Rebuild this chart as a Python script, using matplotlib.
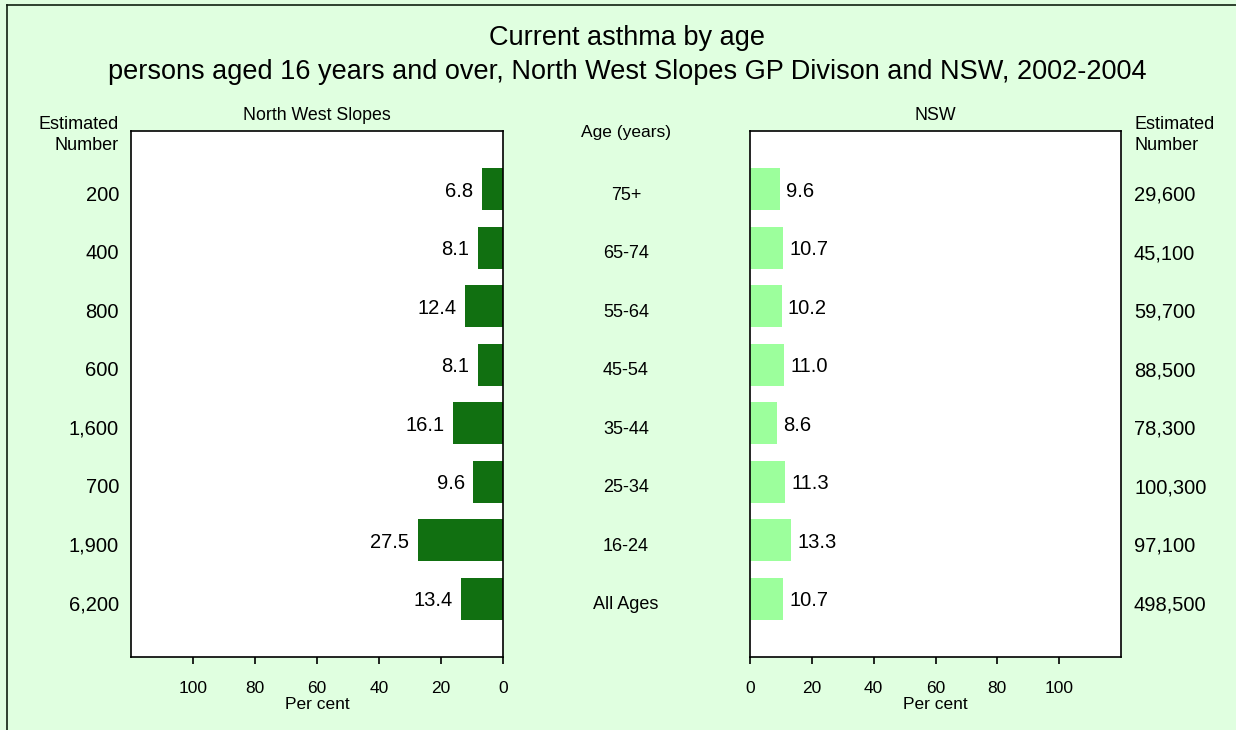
import matplotlib
matplotlib.use("Agg")
import matplotlib.pyplot as plt
from matplotlib.lines import Line2D
import matplotlib.transforms as mtransforms

plt.rcParams['font.family'] = ['Liberation Sans', 'DejaVu Sans']

ages = ["75+", "65-74", "55-64", "45-54", "35-44", "25-34", "16-24", "All Ages"]
nws_pct = [6.8, 8.1, 12.4, 8.1, 16.1, 9.6, 27.5, 13.4]
nsw_pct = [9.6, 10.7, 10.2, 11.0, 8.6, 11.3, 13.3, 10.7]
nws_num = ["200", "400", "800", "600", "1,600", "700", "1,900", "6,200"]
nsw_num = ["29,600", "45,100", "59,700", "88,500", "78,300", "100,300", "97,100", "498,500"]
ticks = [0, 20, 40, 60, 80, 100]

bg = "#E0FFE0"
dark = "#117011"
light = "#9CFF9C"

W, H = 1236, 730
fig = plt.figure(figsize=(W / 100, H / 100), dpi=100, facecolor=bg)

def fx(px):
    return px / W

def fy(py):
    return 1 - py / H

axL = fig.add_axes([fx(131), fy(657), fx(503 - 131), (657 - 131) / H])
axR = fig.add_axes([fx(750), fy(657), fx(1121 - 750), (657 - 131) / H])

ypos = list(range(len(ages)))

axL.barh(ypos, nws_pct, height=0.72, color=dark)
axR.barh(ypos, nsw_pct, height=0.72, color=light)

for ax in (axL, axR):
    ax.set_ylim(len(ages), -1)
    ax.set_facecolor("white")
    ax.set_yticks([])
    ax.set_xticks(ticks)
    ax.tick_params(axis="x", length=5, width=1.2, labelsize=12.5, pad=12, colors="black")
    for s in ax.spines.values():
        s.set_linewidth(1.2)
    ax.set_xlabel("Per cent", fontsize=12.5, labelpad=1)
axL.set_xlim(120, 0)
axR.set_xlim(0, 120)

for y, v in zip(ypos, nws_pct):
    axL.annotate(f"{v:.1f}", (v, y), xytext=(-6, -1.5), textcoords="offset points",
                 ha="right", va="center", fontsize=14.5)
for y, v in zip(ypos, nsw_pct):
    axR.annotate(f"{v:.1f}", (v, y), xytext=(4.5, -1.5), textcoords="offset points",
                 ha="left", va="center", fontsize=14.5)

offs = mtransforms.ScaledTranslation(0, -6 / 100, fig.dpi_scale_trans)
trL = mtransforms.blended_transform_factory(fig.transFigure, axL.transData) + offs
for y, a, n1, n2 in zip(ypos, ages, nws_num, nsw_num):
    fig.text(fx(626), y, a, transform=trL, ha="center", va="center", fontsize=13)
    fig.text(fx(119), y, n1, transform=trL, ha="right", va="center", fontsize=14.5)
    fig.text(fx(1134), y, n2, transform=trL, ha="left", va="center", fontsize=14.5)

fig.text(fx(119), fy(135), "Estimated\nNumber", ha="right", va="center", fontsize=13, linespacing=1.3)
fig.text(fx(1134), fy(135), "Estimated\nNumber", ha="left", va="center", fontsize=13, linespacing=1.3)
fig.text(fx(626), fy(133), "Age (years)", ha="center", va="center", fontsize=12.5)
fig.text(fx(317), fy(115), "North West Slopes", ha="center", va="center", fontsize=12.8)
fig.text(fx(935), fy(115), "NSW", ha="center", va="center", fontsize=12.8)

fig.text(fx(627), fy(38), "Current asthma by age", ha="center", va="center", fontsize=19.5)
fig.text(fx(627), fy(72), "persons aged 16 years and over, North West Slopes GP Divison and NSW, 2002-2004",
         ha="center", va="center", fontsize=19.5)

fig.add_artist(Line2D([fx(7), 1], [fy(5), fy(5)], transform=fig.transFigure, color="#102010", lw=1.2))
fig.add_artist(Line2D([fx(7), fx(7)], [0, fy(5)], transform=fig.transFigure, color="#102010", lw=1.2))

fig.savefig("out.png", dpi=100, facecolor=bg)
